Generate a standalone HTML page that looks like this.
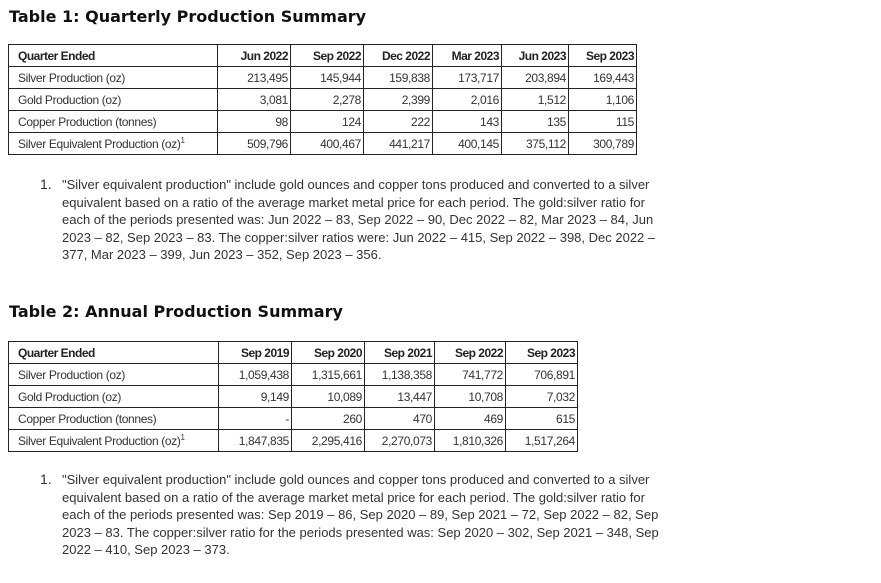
<!DOCTYPE html>
<html><head><meta charset="utf-8"><style>
body{margin:0;background:#fff;width:881px;height:583px;position:relative;overflow:hidden;font-family:"Liberation Sans",Arial,sans-serif;color:#222}
h2{position:absolute;left:9px;margin:0;font:bold 16px "DejaVu Sans",sans-serif;color:#111}
table{position:absolute;border-collapse:collapse;table-layout:fixed;font-size:12px;letter-spacing:-0.35px;color:#333}
td{border:1px solid #222;padding:0 2px;height:21px;text-align:right;white-space:nowrap;overflow:hidden}
td:first-child{text-align:left;padding-left:9px}
tr:first-child td{font-weight:bold;color:#222;letter-spacing:-0.5px}
sup{font-size:8px;line-height:0}
.note{position:absolute;left:40px;font-size:13px;line-height:17.6px;color:#333}
.note span.n{position:absolute;left:0;top:0;font-size:14px}
.note div{margin-left:22px;white-space:nowrap}
</style></head><body>
<h2 style="top:7px">Table 1: Quarterly Production Summary</h2>
<table style="left:8px;top:44px;width:628px">
<colgroup><col style="width:209px"><col style="width:73px"><col style="width:73px"><col style="width:69px"><col style="width:69px"><col style="width:67px"><col style="width:68px"></colgroup>
<tr><td>Quarter Ended</td><td>Jun 2022</td><td>Sep 2022</td><td>Dec 2022</td><td>Mar 2023</td><td>Jun 2023</td><td>Sep 2023</td></tr>
<tr><td>Silver Production (oz)</td><td>213,495</td><td>145,944</td><td>159,838</td><td>173,717</td><td>203,894</td><td>169,443</td></tr>
<tr><td>Gold Production (oz)</td><td>3,081</td><td>2,278</td><td>2,399</td><td>2,016</td><td>1,512</td><td>1,106</td></tr>
<tr><td>Copper Production (tonnes)</td><td>98</td><td>124</td><td>222</td><td>143</td><td>135</td><td>115</td></tr>
<tr><td>Silver Equivalent Production (oz)<sup>1</sup></td><td>509,796</td><td>400,467</td><td>441,217</td><td>400,145</td><td>375,112</td><td>300,789</td></tr>
</table>
<div class="note" style="top:176px"><span class="n">1.</span><div>"Silver equivalent production" include gold ounces and copper tons produced and converted to a silver<br>equivalent based on a ratio of the average market metal price for each period. The gold:silver ratio for<br>each of the periods presented was: Jun 2022 – 83, Sep 2022 – 90, Dec 2022 – 82, Mar 2023 – 84, Jun<br>2023 – 82, Sep 2023 – 83. The copper:silver ratios were: Jun 2022 – 415, Sep 2022 – 398, Dec 2022 –<br>377, Mar 2023 – 399, Jun 2023 – 352, Sep 2023 – 356.</div></div>
<h2 style="top:302px">Table 2: Annual Production Summary</h2>
<table style="left:8px;top:341px;width:569px">
<colgroup><col style="width:210px"><col style="width:73px"><col style="width:73px"><col style="width:70px"><col style="width:71px"><col style="width:72px"></colgroup>
<tr><td>Quarter Ended</td><td>Sep 2019</td><td>Sep 2020</td><td>Sep 2021</td><td>Sep 2022</td><td>Sep 2023</td></tr>
<tr><td>Silver Production (oz)</td><td>1,059,438</td><td>1,315,661</td><td>1,138,358</td><td>741,772</td><td>706,891</td></tr>
<tr><td>Gold Production (oz)</td><td>9,149</td><td>10,089</td><td>13,447</td><td>10,708</td><td>7,032</td></tr>
<tr><td>Copper Production (tonnes)</td><td>-</td><td>260</td><td>470</td><td>469</td><td>615</td></tr>
<tr><td>Silver Equivalent Production (oz)<sup>1</sup></td><td>1,847,835</td><td>2,295,416</td><td>2,270,073</td><td>1,810,326</td><td>1,517,264</td></tr>
</table>
<div class="note" style="top:471px"><span class="n">1.</span><div>"Silver equivalent production" include gold ounces and copper tons produced and converted to a silver<br>equivalent based on a ratio of the average market metal price for each period. The gold:silver ratio for<br>each of the periods presented was: Sep 2019 – 86, Sep 2020 – 89, Sep 2021 – 72, Sep 2022 – 82, Sep<br>2023 – 83. The copper:silver ratio for the periods presented was: Sep 2020 – 302, Sep 2021 – 348, Sep<br>2022 – 410, Sep 2023 – 373.</div></div>
</body></html>
